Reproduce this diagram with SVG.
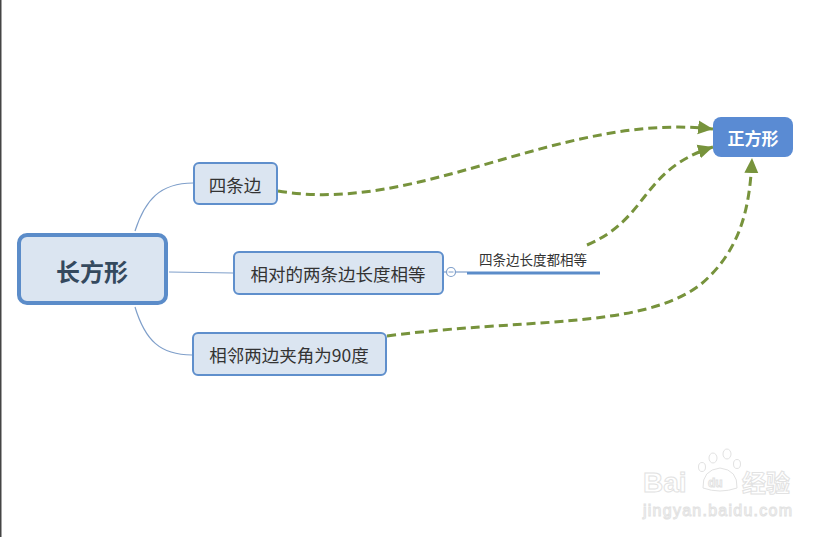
<svg xmlns="http://www.w3.org/2000/svg" width="838" height="537" viewBox="0 0 838 537">
<style>
.t{font-family:"Noto Sans CJK SC","Noto Sans",sans-serif;}
.sub{fill:#dbe5f1;stroke:#5f8fcc;stroke-width:2;}
.st{font-size:17.5px;fill:#333;text-anchor:middle;dominant-baseline:central;}
.br{fill:none;stroke:#7f9fca;stroke-width:1.2;}
.rel{fill:none;stroke:#77933c;stroke-width:3;stroke-dasharray:9,5;}
.wm{fill:#fff;stroke:#e2e2e2;stroke-width:1;}
</style>
<defs>
<marker id="ah" markerUnits="userSpaceOnUse" markerWidth="16" markerHeight="16" viewBox="0 0 16 16" refX="15" refY="8" orient="auto">
<path d="M0,1 L15,8 L0,15 Z" fill="#77933c"/>
</marker>
</defs>
<rect width="838" height="537" fill="#fff"/>
<line x1="0.75" y1="0" x2="0.75" y2="537" stroke="#444" stroke-width="1.5"/>

<g id="watermark">
<g class="wm">
<ellipse cx="713" cy="458" rx="4" ry="5"/>
<ellipse cx="727" cy="454" rx="4" ry="5"/>
<ellipse cx="702" cy="467" rx="3.5" ry="4.5"/>
<ellipse cx="737" cy="464" rx="3.5" ry="4.5"/>
<path d="M703,488 Q702,470 720,468 Q738,470 737,488 Q720,494 703,488 Z"/>
</g>
<text class="wm" x="643" y="492" font-size="28" font-weight="bold" font-family="Liberation Sans,sans-serif">Bai</text>
<text class="wm" x="708" y="487" font-size="12" font-weight="bold" font-family="Liberation Sans,sans-serif">du</text>
<text class="t wm" x="742" y="492" font-size="24" font-weight="bold">经验</text>
<text class="wm" x="643" y="516" font-size="16" textLength="149" font-family="Liberation Sans,sans-serif">jingyan.baidu.com</text>
</g>

<g id="connectors">
<path class="br" d="M135,231 C145,200 160,183 193,183"/>
<path class="br" d="M169,272 L233,273"/>
<path class="br" d="M135,307 C145,340 160,355 192,355"/>
<line x1="443" y1="272" x2="467" y2="272" stroke="#7f9fca" stroke-width="1.2"/>
<line x1="467" y1="273" x2="600" y2="273" stroke="#5b8cc9" stroke-width="3"/>
<path class="rel" d="M278,191 C420,215 560,112 713,129" marker-end="url(#ah)"/>
<path class="rel" d="M587,245 C650,218 640,170 713,147" marker-end="url(#ah)"/>
<path class="rel" d="M387,336 C520,318 640,330 700,285 C742,250 750,205 752,158" marker-end="url(#ah)"/>
</g>

<g id="n-main">
<rect x="19" y="235" width="147" height="68" rx="8" fill="#dbe5f1" stroke="#5b8cc9" stroke-width="4"/>
<text class="t" x="92" y="270" font-size="24" font-weight="bold" fill="#34495e" text-anchor="middle" dominant-baseline="central">长方形</text>
</g>

<g id="n-four">
<rect class="sub" x="194" y="163" width="83" height="41" rx="5"/>
<text class="t st" x="235" y="184">四条边</text>
</g>

<g id="n-opp">
<rect class="sub" x="234" y="252" width="209" height="42" rx="5"/>
<text class="t st" x="338" y="273">相对的两条边长度相等</text>
</g>

<g id="n-adj">
<rect class="sub" x="193" y="333" width="193" height="42" rx="5"/>
<text class="t st" x="289" y="354">相邻两边夹角为90度</text>
</g>

<g id="n-collapse">
<circle cx="451" cy="272" r="4.5" fill="#fff" stroke="#7f9fca" stroke-width="1.2"/>
<line x1="448.5" y1="272" x2="453.5" y2="272" stroke="#7f9fca" stroke-width="1"/>
</g>

<g id="n-label">
<text class="t" x="533" y="259" font-size="13.5" fill="#333" text-anchor="middle" dominant-baseline="central">四条边长度都相等</text>
</g>

<g id="n-square">
<rect x="713" y="117" width="80" height="40" rx="8" fill="#5a8bd3"/>
<text class="t" x="753" y="137" font-size="17" font-weight="bold" fill="#fff" text-anchor="middle" dominant-baseline="central">正方形</text>
</g>
</svg>
